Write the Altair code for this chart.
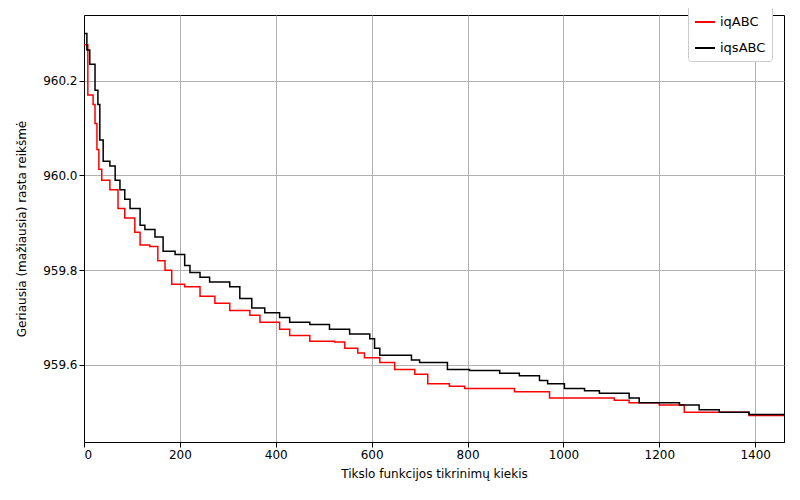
import pandas as pd
import altair as alt

# iqABC (red)
red_x = [0, 8, 19, 23, 27, 31, 37, 54, 71, 85, 106, 117, 137, 154, 169, 183, 210, 242, 273, 304, 346, 367,
         408, 429, 471, 523, 544, 571, 585, 617, 648, 690, 717, 762, 794, 898, 971, 1106, 1137, 1200, 1252,
         1387, 1460]
red_y = [960.276, 960.17, 960.15, 960.11, 960.055, 960.013, 959.99, 959.97, 959.93, 959.91, 959.88, 959.853,
         959.85, 959.82, 959.80, 959.77, 959.765, 959.745, 959.73, 959.715, 959.705, 959.69, 959.675, 959.662,
         959.65, 959.648, 959.635, 959.625, 959.615, 959.605, 959.59, 959.58, 959.56, 959.555, 959.55, 959.543,
         959.53, 959.525, 959.52, 959.515, 959.50, 959.493, 959.493]
# iqsABC (black)
blk_x = [0, 6, 12, 23, 29, 33, 40, 54, 65, 75, 85, 96, 117, 127, 148, 165, 190, 210, 221, 242, 262, 304,
         325, 350, 377, 408, 429, 471, 512, 554, 596, 606, 617, 683, 700, 758, 804, 867, 908, 950, 967, 1002,
         1044, 1075, 1137, 1158, 1242, 1283, 1325, 1387, 1460]
blk_y = [960.30, 960.265, 960.235, 960.18, 960.15, 960.075, 960.03, 960.02, 959.99, 959.97, 959.95, 959.93,
         959.895, 959.886, 959.87, 959.84, 959.833, 959.81, 959.795, 959.785, 959.775, 959.765, 959.74,
         959.72, 959.71, 959.70, 959.69, 959.685, 959.675, 959.665, 959.655, 959.635, 959.62, 959.61, 959.605,
         959.59, 959.588, 959.582, 959.577, 959.567, 959.56, 959.55, 959.545, 959.54, 959.53, 959.52, 959.515,
         959.505, 959.50, 959.495, 959.492]

data = pd.concat([
    pd.DataFrame({"x": red_x, "y": red_y, "s": "iqABC"}),
    pd.DataFrame({"x": blk_x, "y": blk_y, "s": "iqsABC"}),
])

chart = alt.Chart(data).mark_line(interpolate="step-after", strokeWidth=1.5).encode(
    x=alt.X("x:Q", title="Tikslo funkcijos tikrinimų kiekis",
            scale=alt.Scale(domain=[0, 1460], nice=False),
            axis=alt.Axis(values=[0, 200, 400, 600, 800, 1000, 1200, 1400], format="d", titlePadding=8)),
    y=alt.Y("y:Q", title="Geriausia (mažiausia) rasta reikšmė",
            scale=alt.Scale(domain=[959.437, 960.339], nice=False, zero=False),
            axis=alt.Axis(values=[959.6, 959.8, 960.0, 960.2], format=".1f", titlePadding=14)),
    color=alt.Color("s:N", scale=alt.Scale(domain=["iqABC", "iqsABC"], range=["red", "black"]),
                    legend=alt.Legend(title=None, orient="none", legendX=604, legendY=-10,
                                      symbolType="stroke", symbolStrokeWidth=2, symbolSize=400,
                                      labelFontSize=13, rowPadding=8,
                                      fillColor="white", strokeColor="#ccc", padding=6, cornerRadius=3)),
).properties(
    width=700, height=427, autosize=alt.AutoSizeParams(type="none"),
    padding={"left": 76, "top": 7, "right": 8, "bottom": 50},
).configure_axis(
    labelFont="DejaVu Sans", titleFont="DejaVu Sans", labelFontSize=12, titleFontSize=12,
    titleFontWeight="normal", gridColor="#b0b0b0", domainColor="black", tickColor="black",
    labelColor="black", titleColor="black",
).configure_legend(labelFont="DejaVu Sans").configure_view(stroke="black")

chart.save("out.html", embed_options={"renderer": "svg", "actions": False})
